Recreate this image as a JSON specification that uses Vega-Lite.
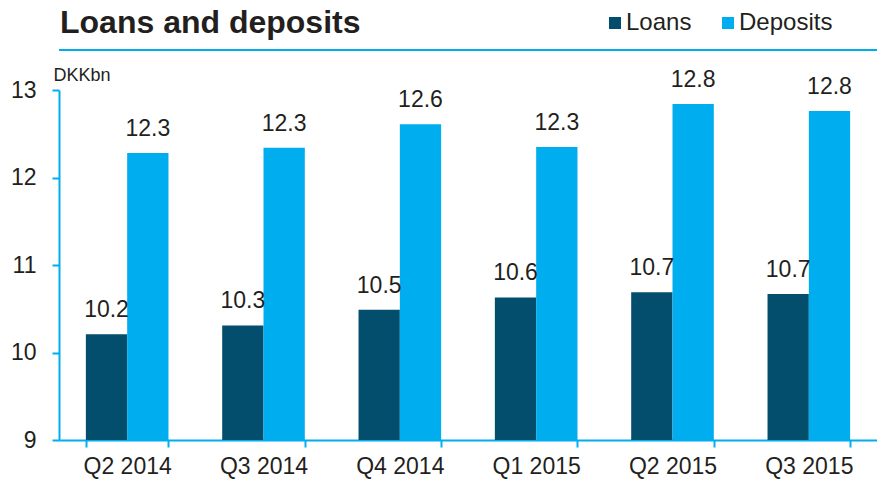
{
  "$schema": "https://vega.github.io/schema/vega-lite/v6.json",
  "width": 818,
  "height": 350,
  "autosize": {"type": "none"},
  "padding": {"left": 59, "top": 90, "right": 0, "bottom": 39},
  "background": "white",
  "config": {
    "font": "Liberation Sans",
    "view": {"stroke": null},
    "axis": {
      "domainColor": "#00aeef",
      "domainWidth": 2,
      "tickColor": "#00aeef",
      "tickWidth": 2,
      "tickSize": 7,
      "labelFontSize": 23,
      "labelColor": "#231f20",
      "grid": false
    }
  },
  "title": {
    "text": "Loans and deposits",
    "anchor": "start",
    "frame": "group",
    "fontSize": 32,
    "fontWeight": "bold",
    "color": "#231f20",
    "offset": 10,
    "dx": 1,
    "dy": 39
  },
  "data": {
    "values": [
      {"quarter": "Q2 2014", "series": "Loans", "value": 10.21},
      {"quarter": "Q2 2014", "series": "Deposits", "value": 12.28},
      {"quarter": "Q3 2014", "series": "Loans", "value": 10.31},
      {"quarter": "Q3 2014", "series": "Deposits", "value": 12.34},
      {"quarter": "Q4 2014", "series": "Loans", "value": 10.49},
      {"quarter": "Q4 2014", "series": "Deposits", "value": 12.61},
      {"quarter": "Q1 2015", "series": "Loans", "value": 10.63},
      {"quarter": "Q1 2015", "series": "Deposits", "value": 12.35},
      {"quarter": "Q2 2015", "series": "Loans", "value": 10.69},
      {"quarter": "Q2 2015", "series": "Deposits", "value": 12.84},
      {"quarter": "Q3 2015", "series": "Loans", "value": 10.67},
      {"quarter": "Q3 2015", "series": "Deposits", "value": 12.76}
    ]
  },
  "encoding": {
    "x": {
      "field": "quarter",
      "type": "nominal",
      "sort": ["Q2 2014", "Q3 2014", "Q4 2014", "Q1 2015", "Q2 2015", "Q3 2015"],
      "scale": {"paddingInner": 0.394, "paddingOuter": 0.197},
      "axis": {"title": null, "labelAngle": 0, "tickBand": "extent", "labelPadding": 8}
    },
    "xOffset": {"field": "series", "type": "nominal", "sort": ["Loans", "Deposits"]}
  },
  "layer": [
    {
      "mark": {"type": "rule", "color": "#00aeef", "strokeWidth": 2},
      "encoding": {"y": {"datum": 13.457, "type": "quantitative"}, "x": null, "xOffset": null}
    },
    {
      "mark": {"type": "bar"},
      "encoding": {
        "y": {
          "field": "value",
          "type": "quantitative",
          "scale": {"domain": [9, 13], "nice": false, "zero": false},
          "axis": {
            "values": [9, 10, 11, 12, 13],
            "format": "d",
            "title": "DKKbn",
            "titleAngle": 0,
            "titleAlign": "left",
            "titleBaseline": "alphabetic",
            "titleX": -6,
            "titleY": -10,
            "titleFontSize": 18,
            "titleFontWeight": "normal",
            "titleColor": "#231f20",
            "labelPadding": 16
          }
        },
        "y2": {"datum": 9},
        "color": {
          "field": "series",
          "type": "nominal",
          "sort": ["Loans", "Deposits"],
          "scale": {"range": ["#034e6d", "#00aeef"]},
          "legend": {
            "title": null,
            "orient": "none",
            "direction": "horizontal",
            "legendX": 544,
            "legendY": -79,
            "padding": 0,
            "symbolType": "square",
            "symbolSize": 144,
            "symbolStrokeWidth": 0,
            "labelFontSize": 24,
            "labelColor": "#231f20",
            "labelOffset": -1,
            "columnPadding": 24
          }
        }
      }
    },
    {
      "mark": {"type": "text", "fontSize": 23, "color": "#231f20", "baseline": "alphabetic", "dy": -17},
      "encoding": {
        "y": {"field": "value", "type": "quantitative"},
        "text": {"field": "value", "type": "quantitative", "format": ".1f"}
      }
    }
  ]
}
